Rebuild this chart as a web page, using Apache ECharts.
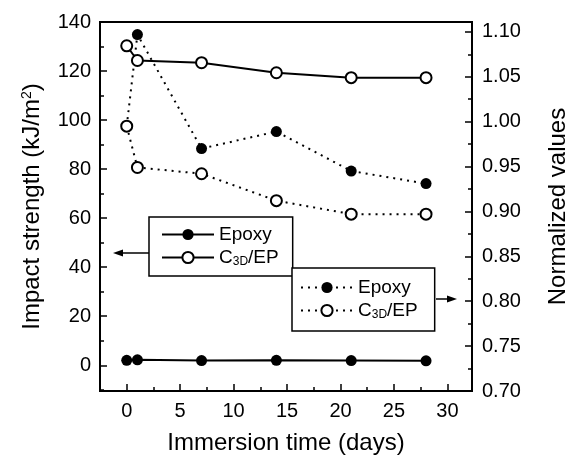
<!DOCTYPE html>
<html>
<head>
<meta charset="utf-8">
<script src="https://cdn.jsdelivr.net/npm/echarts@6/dist/echarts.min.js"></script>
<style>
html,body{margin:0;padding:0;background:#fff;}
#chart{width:578px;height:460px;}
</style>
</head>
<body>
<div id="chart"></div>
<script>
// ---- data ----
var days = [0, 1, 7, 14, 21, 28];
var epoxyImpact = [2.0, 2.2, 1.9, 2.0, 1.9, 1.8];
var c3dImpact = [130.3, 124.3, 123.4, 119.3, 117.3, 117.3];
var epoxyNorm = [0.995, 1.097, 0.970, 0.989, 0.945, 0.931];
var c3dNorm = [0.995, 0.949, 0.942, 0.912, 0.897, 0.897];
var xTicks = [0, 5, 10, 15, 20, 25, 30];
var leftTicks = [0, 20, 40, 60, 80, 100, 120, 140];
var rightTicks = [0.70, 0.75, 0.80, 0.85, 0.90, 0.95, 1.00, 1.05, 1.10];

function pairs(xs, ys) { return xs.map(function (x, i) { return [x, ys[i]]; }); }
function isTick(list, v) { return list.some(function (t) { return Math.abs(t - v) < 1e-6; }); }

var FONT = 'Liberation Sans, Arial, sans-serif';
var legendNames = {
  'Epoxy': '{a|Epoxy}',
  'C3D/EP': '{a|C}{sub|3D}{a|/EP}',
  'Epoxy ': '{a|Epoxy}',
  'C3D/EP ': '{a|C}{sub|3D}{a|/EP}'
};
var legendRich = {
  a: { fontSize: 19, fontFamily: FONT, color: '#000' },
  sub: { fontSize: 12, fontFamily: FONT, color: '#000', verticalAlign: 'bottom', padding: [9, 0, 0, 0] }
};
var axisLineStyle = { color: '#000', width: 2 };

var chart = echarts.init(document.getElementById('chart'), null, { renderer: 'canvas' });
var option = {
  backgroundColor: '#fff',
  animation: false,
  grid: { left: 100, right: 106, top: 22, bottom: 63, show: true, borderColor: '#000', borderWidth: 2 },
  xAxis: {
    type: 'value', min: -2.5, max: 32.3, splitNumber: 7,
    axisLine: { onZero: false, lineStyle: axisLineStyle },
    axisTick: { inside: true, length: 7, lineStyle: { color: '#000', width: 1.5 } },
    minorTick: { show: true, splitNumber: 2, length: 4, lineStyle: { color: '#000', width: 1.5 } },
    splitLine: { show: false },
    axisLabel: { margin: 10, fontSize: 20, fontFamily: FONT, color: '#000',
      formatter: function (v) { return isTick(xTicks, v) ? String(Math.round(v)) : ''; } },
    name: 'Immersion time (days)', nameLocation: 'middle', nameGap: 40,
    nameTextStyle: { fontSize: 24, fontFamily: FONT, color: '#000' }
  },
  yAxis: [
    {
      type: 'value', position: 'left', min: -10.5, max: 140, splitNumber: 7,
      axisLine: { show: true, onZero: false, lineStyle: axisLineStyle },
      axisTick: { show: true, inside: true, length: 7, lineStyle: { color: '#000', width: 1.5 } },
      minorTick: { show: true, splitNumber: 2, length: 4, lineStyle: { color: '#000', width: 1.5 } },
      splitLine: { show: false },
      axisLabel: { margin: 9, fontSize: 20, fontFamily: FONT, color: '#000',
        formatter: function (v) { return isTick(leftTicks, v) ? String(Math.round(v)) : ''; } },
      name: '{a|Impact strength (kJ/m}{sup|2}{a|)}', nameLocation: 'middle', nameGap: 56, nameRotate: 90,
      nameTextStyle: { fontSize: 24, fontFamily: FONT, color: '#000',
        rich: { a: { fontSize: 24, fontFamily: FONT, color: '#000' },
                sup: { fontSize: 14, fontFamily: FONT, color: '#000', verticalAlign: 'top', padding: [0, 0, 10, 0] } } }
    },
    {
      type: 'value', position: 'right', min: 0.70, max: 1.111, splitNumber: 8,
      axisLine: { show: true, onZero: false, lineStyle: axisLineStyle },
      axisTick: { show: true, inside: true, length: 7, lineStyle: { color: '#000', width: 1.5 } },
      minorTick: { show: true, splitNumber: 2, length: 4, lineStyle: { color: '#000', width: 1.5 } },
      splitLine: { show: false },
      axisLabel: { margin: 10, fontSize: 20, fontFamily: FONT, color: '#000',
        formatter: function (v) { return isTick(rightTicks, v) ? v.toFixed(2) : ''; } },
      name: 'Normalized values', nameLocation: 'middle', nameGap: 74, nameRotate: 90,
      nameTextStyle: { fontSize: 24, fontFamily: FONT, color: '#000' }
    }
  ],
  legend: [
    {
      data: ['Epoxy', 'C3D/EP'], orient: 'vertical', left: 149, top: 217,
      itemWidth: 52, itemHeight: 14, itemGap: 4, selectedMode: false,
      padding: [8, 14, 8, 12], borderColor: '#000', borderWidth: 1.5, borderRadius: 0,
      backgroundColor: '#fff',
      formatter: function (n) { return legendNames[n]; },
      textStyle: { rich: legendRich }
    },
    {
      data: ['Epoxy ', 'C3D/EP '], orient: 'vertical', left: 292, top: 268,
      itemWidth: 52, itemHeight: 14, itemGap: 4, selectedMode: false,
      padding: [10, 17, 10, 8], borderColor: '#000', borderWidth: 1.5, borderRadius: 0,
      backgroundColor: '#fff',
      formatter: function (n) { return legendNames[n]; },
      textStyle: { rich: legendRich }
    }
  ],
  graphic: [
    { type: 'line', shape: { x1: 149, y1: 253, x2: 120, y2: 253 }, style: { stroke: '#000', lineWidth: 1.5 }, z: 100 },
    { type: 'polygon', shape: { points: [[113, 253], [123, 249.5], [123, 256.5]] }, style: { fill: '#000' }, z: 100 },
    { type: 'line', shape: { x1: 436, y1: 299, x2: 450, y2: 299 }, style: { stroke: '#000', lineWidth: 1.5 }, z: 100 },
    { type: 'polygon', shape: { points: [[457, 299], [447, 295.5], [447, 302.5]] }, style: { fill: '#000' }, z: 100 }
  ],
  series: [
    {
      name: 'Epoxy', type: 'line', yAxisIndex: 0, data: pairs(days, epoxyImpact),
      symbol: 'circle', symbolSize: 11, showAllSymbol: true,
      itemStyle: { color: '#000' }, lineStyle: { color: '#000', width: 2 }
    },
    {
      name: 'C3D/EP', type: 'line', yAxisIndex: 0, data: pairs(days, c3dImpact),
      symbol: 'emptyCircle', symbolSize: 11, showAllSymbol: true,
      itemStyle: { color: '#000', borderWidth: 1.6 }, lineStyle: { color: '#000', width: 2 }
    },
    {
      name: 'Epoxy ', type: 'line', yAxisIndex: 1, data: pairs(days, epoxyNorm),
      symbol: 'circle', symbolSize: 11, showAllSymbol: true,
      itemStyle: { color: '#000' }, lineStyle: { color: '#000', width: 2, type: [2, 5] }
    },
    {
      name: 'C3D/EP ', type: 'line', yAxisIndex: 1, data: pairs(days, c3dNorm),
      symbol: 'emptyCircle', symbolSize: 11, showAllSymbol: true,
      itemStyle: { color: '#000', borderWidth: 1.6 }, lineStyle: { color: '#000', width: 2, type: [2, 5] }
    }
  ]
};
chart.setOption(option);
</script>
</body>
</html>
